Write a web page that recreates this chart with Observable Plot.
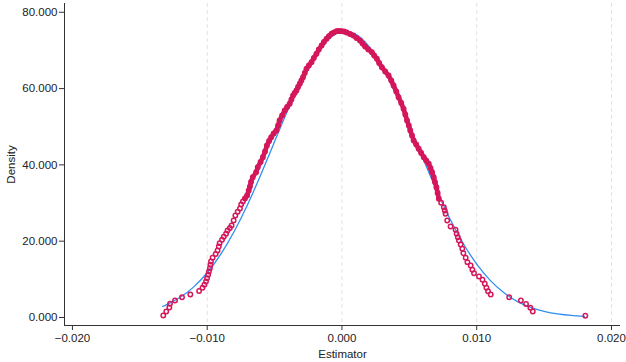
<!DOCTYPE html>
<html>
<head>
<meta charset="utf-8">
<script src="https://cdn.jsdelivr.net/npm/d3@7"></script>
<script src="https://cdn.jsdelivr.net/npm/@observablehq/plot@0.6"></script>
<style>
  html, body { margin: 0; padding: 0; background: #fff; }
  #chart svg { display: block; }
</style>
</head>
<body>
<div id="chart"></div>
<script>
// Kernel density estimate (red hollow circles)
const estX = [-0.01326,-0.01304,-0.01281,-0.01276,-0.01239,-0.01187,-0.01125,-0.01060,-0.01035,-0.01021,
  -0.01009,-0.01001,-0.00993,-0.00987,-0.00980,-0.00976,-0.00972,-0.00960,-0.00937,-0.00923,
  -0.00914,-0.00908,-0.00890,-0.00877,-0.00860,-0.00849,-0.00832,-0.00819,-0.00804,-0.00791,
  -0.00774,-0.00757,-0.00748,-0.00735,-0.00720,-0.00704,-0.00692,-0.00683,-0.00675,-0.00662,
  -0.00637,-0.00625,-0.00604,-0.00587,-0.00571,-0.00557,-0.00541,-0.00525,-0.00507,-0.00487,
  -0.00474,-0.00463,-0.00444,-0.00425,-0.00407,-0.00388,-0.00375,-0.00363,-0.00351,-0.00338,
  -0.00326,-0.00313,-0.00301,-0.00289,-0.00276,-0.00263,-0.00246,-0.00226,-0.00209,-0.00189,
  -0.00172,-0.00151,-0.00134,-0.00114,-0.00097,-0.00077,-0.00060,-0.00040,-0.00022,-0.00002,
  0.00015,0.00035,0.00060,0.00084,0.00108,0.00134,0.00153,0.00172,0.00196,0.00222,
  0.00239,0.00259,0.00276,0.00296,0.00321,0.00346,0.00366,0.00383,0.00403,0.00420,
  0.00440,0.00457,0.00470,0.00483,0.00496,0.00507,0.00520,0.00532,0.00551,0.00569,
  0.00588,0.00607,0.00625,0.00644,0.00657,0.00669,0.00681,0.00690,0.00701,0.00710,
  0.00719,0.00736,0.00756,0.00763,0.00769,0.00781,0.00806,0.00843,0.00851,0.00860,
  0.00868,0.00881,0.00893,0.00901,0.00918,0.00931,0.00955,0.00968,0.00980,0.01017,
  0.01043,0.01060,0.01072,0.01084,0.01104,0.01241,0.01328,0.01366,0.01398,0.01416,
  0.01806];
const estY = [0.52,1.57,2.62,3.59,4.46,5.32,6.03,6.95,7.78,8.60,
  9.44,10.30,11.19,12.06,12.92,13.81,14.68,15.65,16.64,17.56,
  18.61,19.48,20.37,21.15,21.94,22.80,23.46,24.12,25.43,26.74,
  27.71,28.57,29.62,30.41,31.19,31.98,33.29,34.34,35.52,36.78,
  38.09,39.40,40.76,42.02,43.51,45.09,46.26,47.26,48.23,49.02,
  50.33,51.64,52.95,54.26,55.18,56.02,57.14,58.19,58.85,59.50,
  60.42,61.26,62.12,62.99,64.09,65.19,66.06,66.92,68.02,69.12,
  70.25,71.30,72.21,73.05,73.73,74.36,74.70,75.05,75.10,75.05,
  74.97,74.70,74.31,73.92,73.26,72.61,71.82,71.04,70.25,69.54,
  68.68,67.81,66.71,65.61,64.48,63.43,62.12,60.81,59.24,57.75,
  56.23,54.70,53.21,51.64,50.33,49.02,47.71,46.40,45.35,44.22,
  43.12,42.02,41.15,40.29,39.19,38.09,36.78,35.52,34.15,32.63,
  31.11,30.07,28.91,28.05,27.18,25.43,23.85,22.99,21.94,21.05,
  20.18,19.13,18.01,16.85,15.65,14.50,13.63,12.50,11.61,10.75,
  9.88,8.83,7.78,6.89,6.03,5.32,4.46,3.54,2.54,1.57,
  0.47];

// Normal density overlay (blue line)
const normX = [-0.0133,-0.013,-0.012,-0.011,-0.010,-0.009,-0.008,-0.007,-0.006,-0.005,
  -0.004,-0.003,-0.002,-0.001,0.000,0.001,0.002,0.003,0.004,0.005,
  0.006,0.007,0.008,0.009,0.010,0.011,0.012,0.013,0.014,0.015,
  0.016,0.017,0.018];
const normY = [2.92,3.37,5.29,8.02,11.72,16.54,22.54,29.63,37.62,46.10,
  54.51,62.23,68.58,72.96,74.92,74.26,71.05,65.62,58.50,50.35,
  41.82,33.53,25.96,19.40,13.99,9.74,6.55,4.24,2.66,1.61,
  0.94,0.53,0.29];

const xTicks = [-0.02, -0.01, 0, 0.01, 0.02];
const xGrid = [-0.01, 0, 0.01, 0.02];
const yTicks = [0, 20, 40, 60, 80];

const est = estX.map((x, i) => ({x, y: estY[i]}));
const norm = normX.map((x, i) => ({x, y: normY[i]}));

const xDomain = [-0.02059, 0.02067];
const yDomain = [-2.1, 82.3];
const red = "#d4175b";
const blue = "#2f8ef2";

const chart = Plot.plot({
  width: 626,
  height: 362,
  marginLeft: 64,
  marginRight: 6,
  marginTop: 3,
  marginBottom: 37,
  style: {fontFamily: "'Liberation Sans', Arial, sans-serif", fontSize: "11.5px", color: "#222", background: "#fff"},
  x: {domain: xDomain},
  y: {domain: yDomain},
  marks: [
    Plot.ruleX(xGrid, {stroke: "#e3e3e3", strokeWidth: 1, strokeDasharray: "4,3"}),
    Plot.line(norm, {x: "x", y: "y", stroke: blue, strokeWidth: 1.3, curve: "natural"}),
    Plot.line(est, {filter: d => d.x >= -0.0072 && d.x <= 0.0072, x: "x", y: "y", stroke: red, strokeWidth: 4.6, strokeLinejoin: "round", strokeLinecap: "round"}),
    Plot.dot(est, {x: "x", y: "y", r: 2.2, stroke: red, strokeWidth: 1.5, fill: "none"}),
    Plot.ruleX([xDomain[0]], {stroke: "#333", strokeWidth: 1}),
    Plot.ruleY([yDomain[0]], {stroke: "#333", strokeWidth: 1}),
    Plot.axisX(xTicks, {tickFormat: d3.format(".3f"), tickSize: 5, tickPadding: 3, stroke: "#333", fill: "#222",
      label: "Estimator", labelAnchor: "center", labelArrow: "none", labelOffset: 32}),
    Plot.axisY(yTicks, {tickFormat: d3.format(".3f"), tickSize: 5, tickPadding: 2, stroke: "#333", fill: "#222",
      label: "Density", labelAnchor: "center", labelArrow: "none", labelOffset: 58})
  ]
});
document.getElementById("chart").appendChild(chart);
</script>
</body>
</html>
